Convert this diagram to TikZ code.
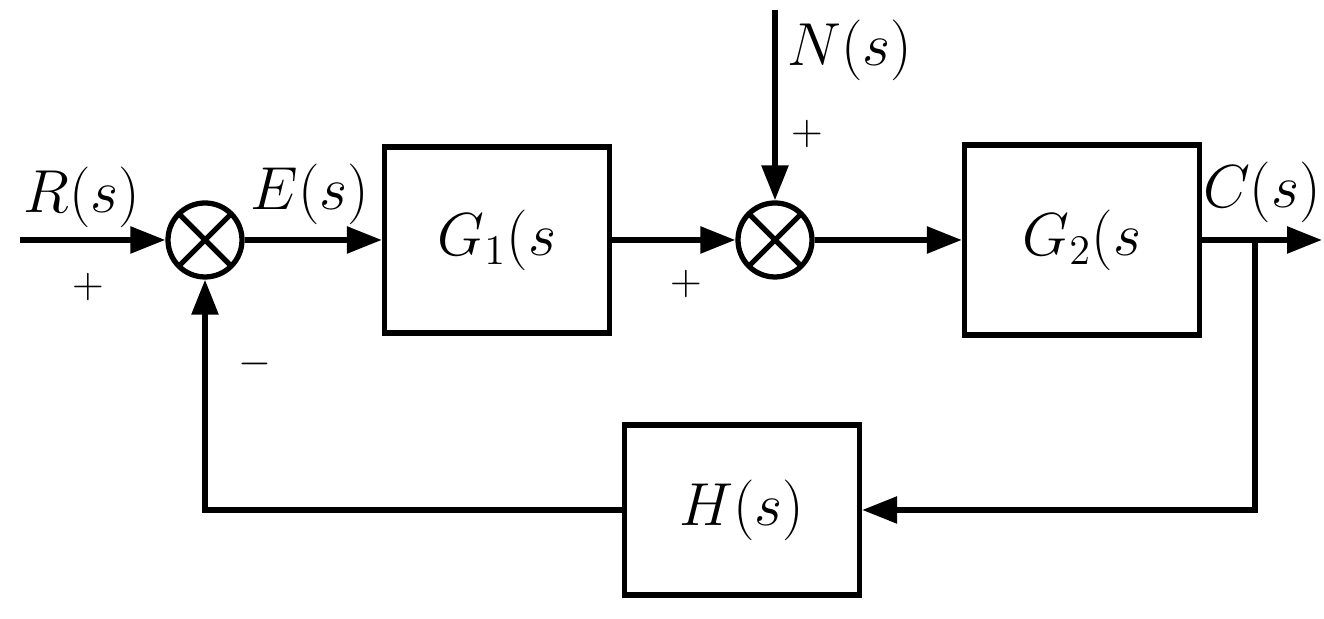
\documentclass[tikz,border=0pt]{standalone}
\usepackage{amsmath}
\usetikzlibrary{positioning, arrows.meta, calc}

\begin{document}
\begin{tikzpicture}[>={Triangle[length=3.5mm,width=2.6mm]}, line width=1.6pt]

	% 定义样式
	\tikzset{
		blk/.style = {
			draw, line width=1.5pt,
			inner sep=0pt, font=\LARGE
		},
		sumnode/.style = {
			circle, draw, line width=1.5pt,
			minimum size=0.74cm, inner sep=0pt,
			path picture={
				\draw[line width=1.5pt] (path picture bounding box.north west) -- (path picture bounding box.south east)
				(path picture bounding box.north east) -- (path picture bounding box.south west);
			}
		},
		sig/.style = {font=\LARGE},
		sgn/.style = {font=\large}
	}

	\useasboundingbox (0,0) rectangle (13.24,6.19);

	% 方框与比较点
	\node[sumnode] (sum1) at (2.05,3.79) {};
	\node[blk, minimum width=2.25cm, minimum height=1.86cm] (g1) at (4.97,3.79) {$G_1(s$};
	\node[sumnode] (sum2) at (7.75,3.79) {};
	\node[blk, minimum width=2.35cm, minimum height=1.9cm] (g2) at (10.82,3.79) {$G_2(s$};
	\node[blk, minimum width=2.35cm, minimum height=1.7cm] (h) at (7.42,1.09) {$H(s)$};

	% 端点
	\coordinate (rin) at (0.2,3.79);
	\coordinate (nin) at (7.75,6.09);
	\coordinate (cout) at (13.22,3.79);
	\coordinate (br) at (12.55,3.79);

	% 连线
	\draw[->] (rin) -- (sum1);
	\draw[->] (sum1) -- (g1);
	\draw[->] (g1) -- (sum2);
	\draw[->] (nin) -- (sum2);
	\draw[->] (sum2) -- (g2);
	\draw[->] (g2) -- (cout);
	\draw[->] (br) |- (h);
	\draw[->] (h) -| (sum1);

	% 标签
	\node[sig] (rlab) at (0.82,4.22) {$R(s)$};
	\node[sgn] (rsgn) at (0.88,3.32) {$+$};
	\node[sig] (elab) at (3.1,4.25) {$E(s)$};
	\node[sgn] (gsgn) at (6.86,3.35) {$+$};
	\node[sig] (nlab) at (8.5,5.69) {$N(s)$};
	\node[sgn] (nsgn) at (8.07,4.85) {$+$};
	\node[sig] (clab) at (12.62,4.27) {$C(s)$};
	\node[sgn] (hsgn) at (2.55,2.55) {$-$};

\end{tikzpicture}
\end{document}
